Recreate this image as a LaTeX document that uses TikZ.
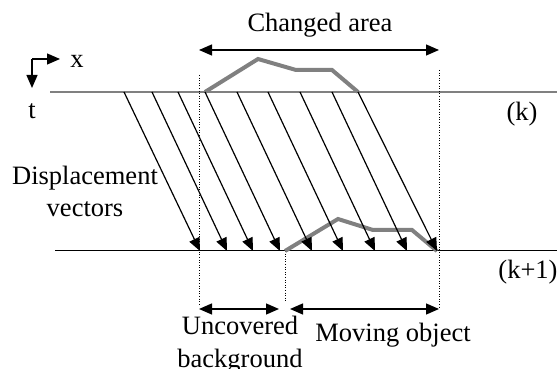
\documentclass[tikz,border=0pt]{standalone}
\usepackage{fontspec}
\setmainfont{Liberation Serif}
\usetikzlibrary{arrows.meta}
\tikzset{
  lbl/.style={inner sep=0pt,font=\fontsize{26.5}{32}\selectfont},
  tip/.style={-{Triangle[length=13pt,width=11pt]}},
  dtip/.style={{Triangle[length=13pt,width=11pt]}-{Triangle[length=13pt,width=11pt]}},
  guide/.style={line width=0.6pt,dotted},
  obj/.style={line width=4pt,gray,line join=miter},
}
\begin{document}
\begin{tikzpicture}[x=1pt,y=1pt,line width=1pt]
\path[use as bounding box] (0,0) rectangle (557,369);
% frames (k) and (k+1)
\coordinate (kL) at (50,277); \coordinate (kR) at (557,277);
\coordinate (nL) at (55,118); \coordinate (nR) at (557,118);
\draw[gray,line width=1.3pt] (kL) -- (kR);
\draw (nL) -- (nR);
\node[lbl] (k) at (522,255) {(k)};
\node[lbl] (k1) at (528,97) {(k+1)};
% axes
\coordinate (o) at (32,310);
\coordinate (ox) at (60,310); \coordinate (ot) at (32,281);
\draw[tip,line width=1.3pt] (o) -- (ox);
\draw[tip,line width=1.3pt] (o) -- (ot);
\node[lbl] (x) at (77,308) {x};
\node[lbl] (t) at (32,258) {t};
% guides
\coordinate (g1t) at (199,294); \coordinate (g1b) at (199,64);
\coordinate (g2t) at (285,118); \coordinate (g2b) at (285,67);
\coordinate (g3t) at (439,299); \coordinate (g3b) at (439,61);
\draw[guide] (g1t) -- (g1b);
\draw[guide] (g2t) -- (g2b);
\draw[guide] (g3t) -- (g3b);
% object in frame k and k+1
\draw[obj] (205,277) -- (258,310) -- (296,299) -- (332,299) -- (358,277);
\draw[obj] (285,118) -- (338,150) -- (373,139) -- (412,139) -- (437,118);
% displacement vectors
\foreach \a/\b [count=\i] in {124/200,152/227,178/253,205/280,237/312,
    268/343,300/375,332/407,358/437} {
  \coordinate (s\i) at (\a,277); \coordinate (e\i) at (\b,118);
  \draw[tip,line width=1.2pt] (s\i) -- (e\i);
}
\node[lbl,align=center] (dv) at (85,178) {Displacement\\vectors};
% areas
\coordinate (ca1) at (199,319); \coordinate (ca2) at (439,319);
\draw[dtip,line width=1.3pt] (ca1) -- (ca2);
\node[lbl] (ca) at (320,344) {Changed area};
\coordinate (ub1) at (199,60); \coordinate (ub2) at (279,60);
\draw[dtip,line width=1.3pt] (ub1) -- (ub2);
\node[lbl,align=center,font=\fontsize{26.5}{33}\selectfont] (ub) at (240,24) {Uncovered\\background};
\coordinate (mo1) at (290,60); \coordinate (mo2) at (439,60);
\draw[dtip,line width=1.3pt] (mo1) -- (mo2);
\node[lbl] (mo) at (393,34) {Moving object};
\end{tikzpicture}
\end{document}
